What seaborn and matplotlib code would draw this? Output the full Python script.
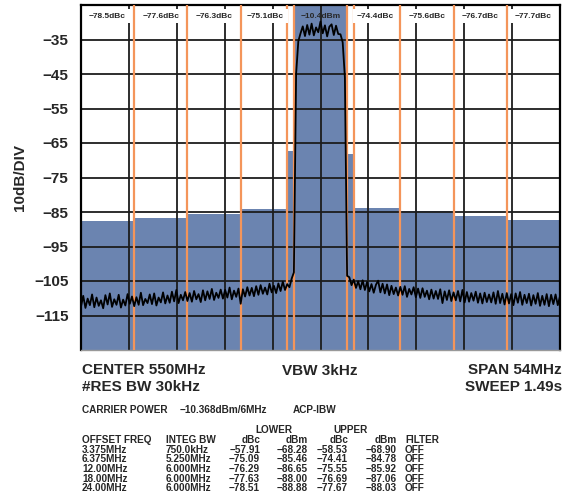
import matplotlib
matplotlib.use("Agg")
import matplotlib.pyplot as plt
import seaborn as sns
import numpy as np

# channel layout (offset from 550 MHz centre, MHz) and channel-power bars (dBm as drawn)
chan_edges = [-27, -21, -15, -9, -3.75, -3, 3, 3.75, 9, 15, 21, 27]
chan_levels = [-87.6, -86.7, -85.6, -84.2, -67.2, -10.4, -68.1, -83.8, -84.6, -86.1, -87.2]
marker_lines = [-21, -15, -9, -3.75, -3, 3, 3.75, 9, 15, 21]
head_labels = ["−78.5dBc", "−77.6dBc", "−76.3dBc", "−75.1dBc", "−10.4dBm",
               "−74.4dBc", "−75.6dBc", "−76.7dBc", "−77.7dBc"]
head_pos = [-24, -18, -12, -6.2, 0, 6.2, 12, 18, 24]

ytick_vals = [-35, -45, -55, -65, -75, -85, -95, -105, -115]
ytick_labels = ["−35", "−45", "−55", "−65", "−75", "−85", "−95", "−105", "−115"]

# spectrum trace, 0.25 MHz steps from -27 to +27 MHz
trace = [
    -112.4, -109.3, -112.8, -110.1, -112.0, -108.9, -112.6, -109.8,
    -112.2, -110.6, -112.9, -109.1, -111.8, -108.6, -112.5, -110.3,
    -111.9, -109.0, -112.7, -110.4, -112.1, -108.8, -111.6, -109.5,
    -112.3, -109.7, -111.9, -108.4, -112.0, -110.2, -111.4, -108.9,
    -111.7, -108.6, -112.1, -109.8, -111.2, -108.3, -111.5, -109.2,
    -111.3, -108.1, -110.9, -107.6, -111.4, -109.0, -110.6, -108.2,
    -110.8, -108.5, -111.0, -107.9, -110.3, -108.8, -111.1, -107.7,
    -110.6, -108.0, -110.2, -107.3, -110.5, -108.4, -109.9, -107.5,
    -110.1, -107.6, -109.8, -106.9, -110.3, -107.8, -109.6, -107.2,
    -111.6, -107.4, -109.5, -106.8, -109.2, -107.0, -109.4, -106.5,
    -109.0, -106.2, -108.7, -106.9, -108.9, -105.8, -108.3, -106.4,
    -108.5, -105.7, -107.9, -105.2, -107.6, -105.9, -106.8, -104.3,
    -102.5, -45.0, -35.5, -33.2,
    -31.2, -34.0, -30.8, -33.6, -30.4, -33.8, -31.5, -32.9, -29.8,
    -33.2, -30.9, -34.1, -31.3, -30.6, -33.7, -31.0, -33.4,
    -33.5, -35.8, -46.0, -103.5,
    -103.9, -106.2, -104.6, -107.0, -105.1, -107.4, -104.8, -107.6,
    -105.3, -108.0, -105.9, -108.4, -106.1, -104.9, -108.3, -105.8,
    -108.6, -106.0, -109.1, -106.4, -108.8, -106.9, -109.2, -106.7,
    -109.0, -106.5, -109.6, -107.3, -108.9, -106.8, -109.7, -107.2,
    -109.9, -107.1, -109.6, -107.8, -110.3, -107.5, -110.1, -107.9,
    -110.2, -107.4, -111.4, -108.0, -110.5, -107.7, -110.8, -108.3,
    -110.6, -107.9, -110.9, -107.6, -111.2, -108.2, -111.0, -108.5,
    -110.7, -108.1, -111.3, -108.6, -111.5, -108.4, -111.1, -108.9,
    -111.2, -108.3, -111.6, -107.9, -111.4, -108.7, -111.8, -108.5,
    -111.5, -108.8, -112.0, -108.6, -111.3, -108.2, -111.9, -109.0,
    -111.4, -108.7, -112.1, -109.1, -111.6, -108.5, -112.2, -109.3,
    -111.9, -108.8, -112.3, -109.0, -111.7, -108.9, -112.0, -109.4,
]
freq = np.linspace(-27, 27, len(trace))

# readout table
carrier_line = ["CARRIER POWER", "−10.368dBm/6MHz", "ACP-IBW"]
offset_freq = ["3.375MHz", "6.375MHz", "12.00MHz", "18.00MHz", "24.00MHz"]
integ_bw = ["750.0kHz", "5.250MHz", "6.000MHz", "6.000MHz", "6.000MHz"]
lower_dbc = ["−57.91", "−75.09", "−76.29", "−77.63", "−78.51"]
lower_dbm = ["−68.28", "−85.46", "−86.65", "−88.00", "−88.88"]
upper_dbc = ["−58.53", "−74.41", "−75.55", "−76.69", "−77.67"]
upper_dbm = ["−68.90", "−84.78", "−85.92", "−87.06", "−88.03"]
filt = ["OFF"] * 5

sns.set_style("white")
plt.rcParams['font.family'] = ['Liberation Sans', 'DejaVu Sans']
plt.rcParams['font.weight'] = 'bold'

BLUE = "#6b84b0"
ORANGE = "#f4955a"
W, H = 576, 500

fig = plt.figure(figsize=(5.76, 5.0), dpi=100)
ax = fig.add_axes([81 / W, 1 - 350 / H, 479 / W, 345 / H])
ax.set_xlim(-27, 27)
ax.set_ylim(-125, -25)

# channel power bars
lefts = chan_edges[:-1]
widths = np.diff(chan_edges)
ax.bar(lefts, np.array(chan_levels) + 125, bottom=-125, width=widths,
       align='edge', color=BLUE, linewidth=0, zorder=1)

# graticule
ax.vlines(np.linspace(-27, 27, 11), -125, -25, color='#1c1c1c', lw=1.3, zorder=2)
ax.hlines(ytick_vals, -27, 27, color='#1c1c1c', lw=1.3, zorder=2)

# channel boundaries
ax.vlines(marker_lines, -125, -25, color=ORANGE, lw=1.6, zorder=3)

sns.lineplot(x=freq, y=trace, color='black', lw=1.3, ax=ax, zorder=4,
             estimator=None, sort=False)

for lab, xp in zip(head_labels, head_pos):
    box = None if lab.endswith("dBm") else dict(facecolor='white', edgecolor='none', pad=2.5)
    ax.text(xp, -28.2, lab, ha='center', va='center', fontsize=6, fontweight='bold',
            bbox=box, zorder=5)

ax.set_yticks(ytick_vals, ytick_labels)
ax.set_xticks([])
ax.tick_params(axis='y', length=0, pad=9, labelsize=11)
for t in ax.get_yticklabels():
    t.set_fontweight('bold')
ax.set_ylabel("10dB/DIV", fontsize=11, fontweight='bold', labelpad=5)
ax.set_xlabel("")
for s in ['left', 'top', 'right']:
    ax.spines[s].set_linewidth(1.6)
    ax.spines[s].set_color('black')
ax.spines['bottom'].set_linewidth(1.0)
ax.spines['bottom'].set_color('#999999')


def ftxt(x, y, s, size, ha='left'):
    fig.text(x / W, 1 - y / H, s, fontsize=size, fontweight='bold', ha=ha, va='center')


ftxt(82, 370, "CENTER 550MHz", 11)
ftxt(82, 387, "#RES BW 30kHz", 11)
ftxt(320, 371, "VBW 3kHz", 11, ha='center')
ftxt(562, 370, "SPAN 54MHz", 11, ha='right')
ftxt(562, 387, "SWEEP 1.49s", 11, ha='right')

for xp, s in zip([82, 180, 293], carrier_line):
    ftxt(xp, 410, s, 7.2)

ftxt(274, 430, "LOWER", 7.2, ha='center')
ftxt(350, 430, "UPPER", 7.2, ha='center')
ftxt(82, 440, "OFFSET FREQ", 7.2)
ftxt(166, 440, "INTEG BW", 7.2)
ftxt(260, 440, "dBc", 7.2, ha='right')
ftxt(308, 440, "dBm", 7.2, ha='right')
ftxt(348, 440, "dBc", 7.2, ha='right')
ftxt(397, 440, "dBm", 7.2, ha='right')
ftxt(405, 440, "FILTER", 7.2)

for i in range(len(offset_freq)):
    yy = 450 + i * 9.5
    ftxt(82, yy, offset_freq[i], 7.2)
    ftxt(166, yy, integ_bw[i], 7.2)
    ftxt(260, yy, lower_dbc[i], 7.2, ha='right')
    ftxt(308, yy, lower_dbm[i], 7.2, ha='right')
    ftxt(348, yy, upper_dbc[i], 7.2, ha='right')
    ftxt(397, yy, upper_dbm[i], 7.2, ha='right')
    ftxt(405, yy, filt[i], 7.2)

fig.savefig("out.png", dpi=100)
